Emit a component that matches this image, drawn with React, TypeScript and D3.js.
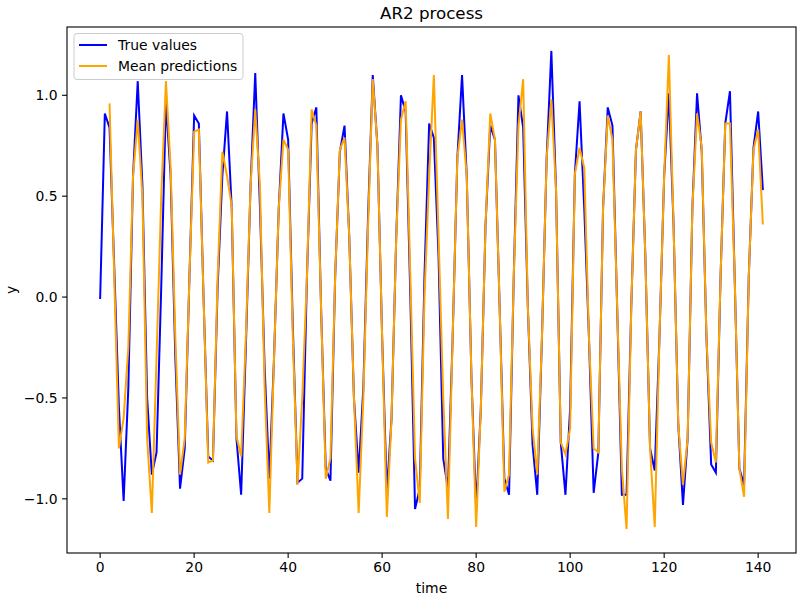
import React from "react";
import * as d3 from "d3";

// true AR(2) series, t = 0..141
const trueValues = [
  -0.01, 0.91, 0.84, 0.15, -0.55, -1.01, -0.45, 0.6, 1.07, 0.55,
  -0.5, -0.88, -0.77, 0.05, 0.97, 0.6, -0.3, -0.95, -0.75, 0.1,
  0.9, 0.86, 0.0, -0.79, -0.81, 0.05, 0.6, 0.92, 0.44, -0.7,
  -0.98, -0.25, 0.55, 1.11, 0.45, -0.35, -0.9, -0.3, 0.44, 0.91,
  0.78, -0.15, -0.92, -0.9, 0.1, 0.86, 0.94, -0.05, -0.85, -0.91,
  0.1, 0.72, 0.85, 0.3, -0.5, -0.87, -0.45, 0.4, 1.1, 0.75,
  -0.2, -0.97, -0.6, 0.3, 1.0, 0.92, 0.0, -1.05, -0.95, 0.1,
  0.86, 0.79, 0.2, -0.8, -0.95, -0.2, 0.69, 1.1, 0.6, -0.4,
  -1.05, -0.55, 0.36, 0.85, 0.78, -0.05, -0.9, -0.98, 0.1, 1.0,
  0.84, -0.05, -0.73, -0.98, -0.2, 0.69, 1.22, 0.53, -0.72, -0.98,
  -0.55, 0.61, 0.97, 0.44, -0.2, -0.97, -0.77, 0.44, 0.94, 0.85,
  -0.05, -0.98, -0.98, -0.05, 0.73, 0.92, 0.2, -0.75, -0.86, -0.2,
  0.6, 1.01, 0.36, -0.63, -1.03, -0.7, 0.44, 1.01, 0.72, -0.2,
  -0.83, -0.87, 0.1, 0.86, 1.02, 0.1, -0.85, -0.93, 0.1, 0.74,
  0.92, 0.53,
];

// mean predictions, start at t = 2
const predStart = 2;
const meanPreds = [
  0.96, 0.1, -0.75, -0.6, -0.25, 0.6, 0.88, 0.5,
  -0.7, -1.07, -0.3, 0.5, 1.07, 0.64, -0.2, -0.88, -0.7, 0.1,
  0.82, 0.83, 0.0, -0.82, -0.81, 0.1, 0.72, 0.6, 0.45, -0.69,
  -0.79, -0.2, 0.55, 0.93, 0.55, -0.45, -1.07, -0.3, 0.44, 0.78,
  0.73, -0.2, -0.93, -0.5, 0.1, 0.93, 0.85, -0.05, -0.9, -0.8,
  0.1, 0.73, 0.79, 0.3, -0.5, -1.07, -0.5, 0.35, 1.08, 0.75,
  -0.2, -1.09, -0.6, 0.3, 0.88, 0.97, 0.1, -0.8, -1.02, 0.0,
  0.6, 1.1, 0.3, -0.5, -1.1, -0.2, 0.69, 0.88, 0.6, -0.4,
  -1.14, -0.55, 0.36, 0.91, 0.78, -0.05, -0.965, -0.88, 0.1, 0.85,
  1.08, -0.05, -0.65, -0.88, -0.2, 0.69, 0.98, 0.53, -0.72, -0.78,
  -0.65, 0.61, 0.74, 0.64, -0.2, -0.75, -0.77, 0.44, 0.9, 0.78,
  -0.05, -0.85, -1.15, -0.05, 0.73, 0.92, 0.2, -0.75, -1.14, -0.2,
  0.6, 1.2, 0.36, -0.63, -0.93, -0.7, 0.44, 0.91, 0.74, -0.2,
  -0.72, -0.82, 0.1, 0.86, 0.86, 0.1, -0.85, -0.99, 0.1, 0.73,
  0.83, 0.36,
];

const xTicks = [0, 20, 40, 60, 80, 100, 120, 140];
const yTicks = [-1.0, -0.5, 0.0, 0.5, 1.0];

const font = "DejaVu Sans, sans-serif";

export default function App() {
  const W = 800;
  const H = 600;
  const m = { left: 67, right: 4, top: 27, bottom: 47 };

  const trueData = trueValues.map((v, i) => [i, v] as [number, number]);
  const predData = meanPreds.map((v, i) => [i + predStart, v] as [number, number]);

  const allY = [...trueValues, ...meanPreds];
  const yMin = d3.min(allY)!;
  const yMax = d3.max(allY)!;
  const yPad = (yMax - yMin) * 0.05;
  const xMax = trueValues.length - 1;
  const xPad = xMax * 0.05;

  const x = d3
    .scaleLinear()
    .domain([-xPad, xMax + xPad])
    .range([m.left, W - m.right]);
  const y = d3
    .scaleLinear()
    .domain([yMin - yPad, yMax + yPad])
    .range([H - m.bottom, m.top]);

  const line = d3
    .line<[number, number]>()
    .x((d) => x(d[0]))
    .y((d) => y(d[1]));

  const bottom = H - m.bottom;

  return (
    <svg
      width={W}
      height={H}
      style={{ position: "absolute", left: 0, top: 0, background: "#fff" }}
      fontFamily={font}
    >
      <rect x={0} y={0} width={W} height={H} fill="#fff" />
      <path d={line(trueData)!} fill="none" stroke="blue" strokeWidth={2} />
      <path d={line(predData)!} fill="none" stroke="orange" strokeWidth={2} />

      {/* frame */}
      <rect
        x={m.left}
        y={m.top}
        width={W - m.left - m.right}
        height={bottom - m.top}
        fill="none"
        stroke="#000"
        strokeWidth={1.1}
      />

      {/* x ticks */}
      {xTicks.map((t) => (
        <g key={"x" + t} transform={`translate(${x(t)},${bottom})`}>
          <line y2={4.9} stroke="#000" strokeWidth={1.1} />
          <text y={19} textAnchor="middle" fontSize={13.9} fill="#000">
            {t}
          </text>
        </g>
      ))}
      {/* y ticks */}
      {yTicks.map((t) => (
        <g key={"y" + t} transform={`translate(${m.left},${y(t)})`}>
          <line x2={-4.9} stroke="#000" strokeWidth={1.1} />
          <text
            x={-9.5}
            dy="0.35em"
            textAnchor="end"
            fontSize={13.9}
            fill="#000"
          >
            {t < 0 ? "\u2212" + Math.abs(t).toFixed(1) : t.toFixed(1)}
          </text>
        </g>
      ))}

      <text
        x={(m.left + W - m.right) / 2}
        y={593}
        textAnchor="middle"
        fontSize={13.9}
        fill="#000"
      >
        time
      </text>
      <text
        transform={`translate(16,${(m.top + bottom) / 2}) rotate(-90)`}
        textAnchor="middle"
        fontSize={13.9}
        fill="#000"
      >
        y
      </text>
      <text
        x={(m.left + W - m.right) / 2}
        y={19}
        textAnchor="middle"
        fontSize={16.7}
        fill="#000"
      >
        AR2 process
      </text>

      {/* legend */}
      <g>
        <rect
          x={74}
          y={33.5}
          width={169}
          height={46}
          rx={3}
          fill="#fff"
          fillOpacity={0.8}
          stroke="#ccc"
          strokeWidth={1}
        />
        <line x1={79} x2={107} y1={45} y2={45} stroke="blue" strokeWidth={2} />
        <text x={118} y={50} fontSize={13.9} fill="#000">
          True values
        </text>
        <line x1={79} x2={107} y1={66} y2={66} stroke="orange" strokeWidth={2} />
        <text x={118} y={71} fontSize={13.9} fill="#000">
          Mean predictions
        </text>
      </g>
    </svg>
  );
}
